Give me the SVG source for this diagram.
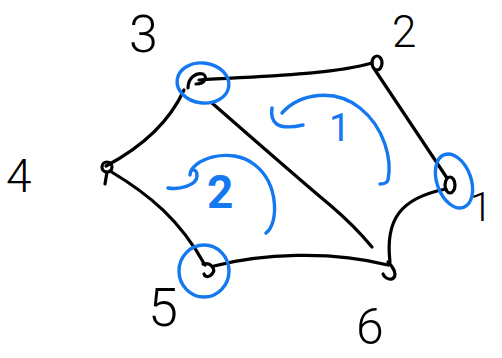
<svg xmlns="http://www.w3.org/2000/svg" width="502" height="358" viewBox="0 0 502 358">
<style>
.ink{fill:none;stroke:#000;stroke-width:3.2;stroke-linecap:round;stroke-linejoin:round}
.blue{fill:none;stroke:#1478f0;stroke-width:3.4;stroke-linecap:round;stroke-linejoin:round}
.lbl{font-family:Roboto,"Liberation Sans",sans-serif;font-weight:300;fill:#000}
.blbl{font-family:Roboto,"Liberation Sans",sans-serif;fill:#1478f0}
</style>
<rect width="502" height="358" fill="#fff"/>
<g id="connectors">
<path class="ink" d="M199 80 C260 76 330 75 372 63"/>
<path class="ink" d="M375 70 L447 178"/>
<path class="ink" d="M184 90 C168 125 140 148 106 166"/>
<path class="ink" d="M110 171 C150 195 180 220 205 265"/>
<path class="ink" d="M212 103 C260 145 300 180 330 205 C350 222 362 235 372 247"/>
<path class="ink" d="M214 266 C260 254 330 250 388 265"/>
<path class="ink" d="M390 262 C385 220 400 198 446 189"/>
</g>
<g id="node1">
<ellipse class="blue" cx="454" cy="181" rx="17" ry="28" transform="rotate(-20 454 181)"/>
<ellipse class="ink" cx="450" cy="185" rx="5" ry="8"/>
<text class="lbl" x="470" y="221" font-size="40">1</text>
</g>
<g id="node2">
<ellipse class="ink" cx="377" cy="63" rx="5" ry="7"/>
<text class="lbl" x="392" y="47" font-size="44">2</text>
</g>
<g id="node3">
<ellipse class="blue" cx="203" cy="83" rx="26" ry="20" transform="rotate(8 203 83)"/>
<path class="ink" d="M188 88 C188 78 196 72 203 74 C208 77 205 84 196 84"/>
<text class="lbl" x="129" y="52" font-size="52">3</text>
</g>
<g id="node4">
<ellipse class="ink" cx="107" cy="167" rx="5" ry="5"/>
<path class="ink" d="M107 172 L105 184"/>
<text class="lbl" x="6" y="192" font-size="46">4</text>
</g>
<g id="node5">
<ellipse class="blue" cx="204" cy="271" rx="25" ry="26"/>
<path class="ink" d="M203 264 C212 262 216 270 212 274 C209 278 205 277 204 274"/>
<text class="lbl" x="148" y="326" font-size="54">5</text>
</g>
<g id="node6">
<path class="ink" d="M388 262 C394 268 398 276 392 279 C388 280 384 277 383 274"/>
<text class="lbl" x="356" y="344" font-size="50">6</text>
</g>
<g id="faces">
<path class="blue" d="M272 108 C270 122 276 131 303 125"/>
<path class="blue" d="M282 113 C300 93 335 88 360 108 C385 128 392 160 388 180 C387 183 383 184 380 184"/>
<text class="blbl" x="329" y="141" font-size="38" font-weight="400">1</text>
<path class="blue" d="M168 188 C180 190 197 185 197 176 C197 168 190 168 190 175 C190 160 230 145 255 165 C280 185 278 225 266 233"/>
<text class="blbl" x="207" y="208" font-size="46" font-weight="700">2</text>
</g>
</svg>
